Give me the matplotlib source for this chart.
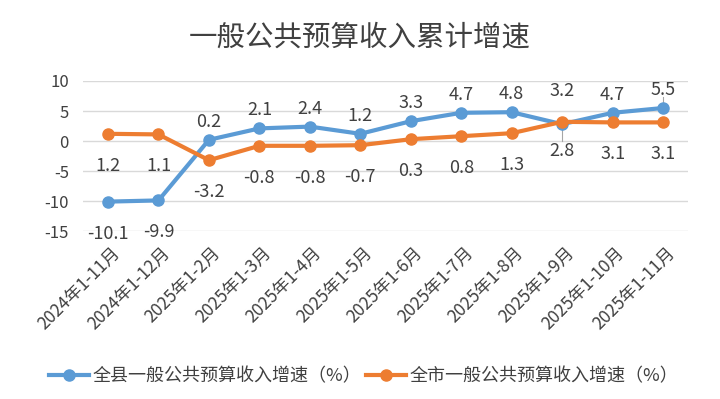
import numpy as np
import matplotlib.pyplot as plt
import matplotlib.transforms as mtrans

plt.rcParams['font.family'] = ['Noto Sans CJK SC', 'DejaVu Sans']
plt.rcParams['axes.unicode_minus'] = False

months = ['2024年1-11月', '2024年1-12月', '2025年1-2月', '2025年1-3月', '2025年1-4月',
          '2025年1-5月', '2025年1-6月', '2025年1-7月', '2025年1-8月', '2025年1-9月',
          '2025年1-10月', '2025年1-11月']
county = [-10.1, -9.9, 0.2, 2.1, 2.4, 1.2, 3.3, 4.7, 4.8, 2.8, 4.7, 5.5]
city = [1.2, 1.1, -3.2, -0.8, -0.8, -0.7, 0.3, 0.8, 1.3, 3.2, 3.1, 3.1]

blue = '#5B9BD5'
orange = '#ED7D31'
txt = '#404040'

fig = plt.figure(figsize=(7.2, 3.99), dpi=100)
ax = fig.add_axes([0.115, 0.421, 0.841, 0.376])
x = np.arange(len(months))

ax.plot(x, county, color=blue, lw=3, marker='o', ms=8, label='全县一般公共预算收入增速（%）', zorder=3)
ax.plot(x, city, color=orange, lw=3, marker='o', ms=8, label='全市一般公共预算收入增速（%）', zorder=4)

# data labels (offsets in points)
for i, v in enumerate(county):
    if i < 2:
        dy = -23
    elif i == 9:
        dy = -19
    else:
        dy = 13
    ax.annotate(f'{v:.1f}', (i, v), xytext=(0, dy), textcoords='offset points',
                ha='center', va='center', fontsize=13, color=txt)
for i, v in enumerate(city):
    if i == 9:
        dy = 22
    else:
        dy = -23
    ax.annotate(f'{v:.1f}', (i, v), xytext=(0, dy), textcoords='offset points',
                ha='center', va='center', fontsize=13, color=txt)

# leader lines
ax.plot([9, 9], [county[9] - 0.3, 0.0], color='#A6A6A6', lw=0.8, zorder=2)
ax.plot([11, 11], [county[11] + 0.5, county[11] + 1.8], color='#A6A6A6', lw=0.8, zorder=2)

ax.set_xlim(-0.5, len(months) - 0.5)
ax.set_ylim(-15, 10)
ax.set_yticks([-15, -10, -5, 0, 5, 10])
ax.grid(axis='y', color='#D9D9D9', lw=1)
ax.set_axisbelow(True)
for s in ax.spines.values():
    s.set_visible(False)
ax.tick_params(length=0, labelsize=12, colors=txt)
ax.tick_params(axis='y', pad=10)
ax.set_xticks(x)
ax.set_xticklabels(months, rotation=45, ha='right', va='center', rotation_mode='anchor', fontsize=12.5)
ax.tick_params(axis='x', pad=8)
shift = mtrans.ScaledTranslation(0.09, -0.08, fig.dpi_scale_trans)
for lab in ax.get_xticklabels():
    lab.set_transform(lab.get_transform() + shift)

fig.text(0.5, 0.905, '一般公共预算收入累计增速', ha='center', va='center', fontsize=20.5, color=txt)

fig.legend(loc='center', bbox_to_anchor=(0.505, 0.058), ncol=2, frameon=False,
           fontsize=13, labelcolor=txt, handlelength=2.2, columnspacing=0.3, handletextpad=0.2)

fig.savefig('out.png', dpi=100)
